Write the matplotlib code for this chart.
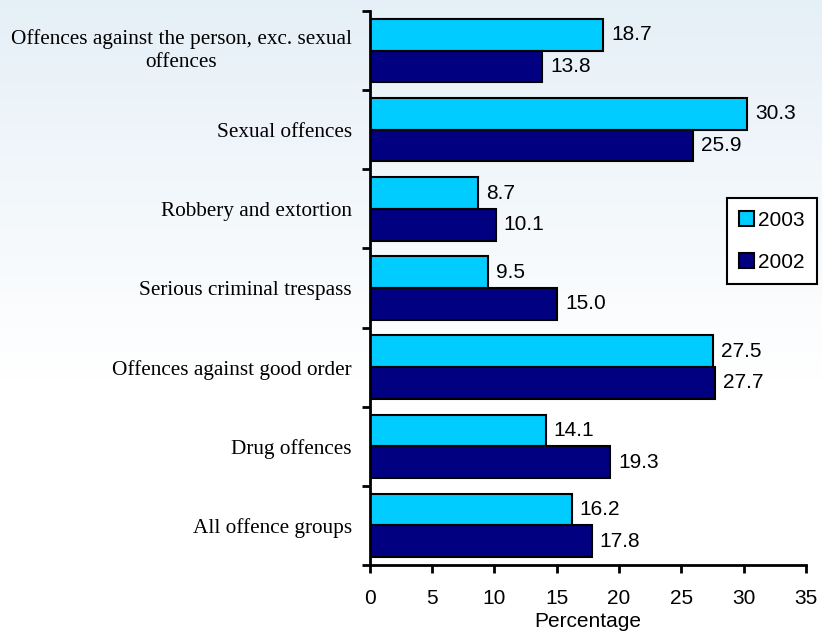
import matplotlib
matplotlib.use("Agg")
import matplotlib.pyplot as plt
import numpy as np

categories = ["Offences against the person, exc. sexual\noffences",
              "Sexual offences",
              "Robbery and extortion",
              "Serious criminal trespass",
              "Offences against good order",
              "Drug offences",
              "All offence groups"]
vals_2003 = [18.7, 30.3, 8.7, 9.5, 27.5, 14.1, 16.2]
vals_2002 = [13.8, 25.9, 10.1, 15.0, 27.7, 19.3, 17.8]
xticks = [0, 5, 10, 15, 20, 25, 30, 35]

fig = plt.figure(figsize=(8.22, 6.31), dpi=100)

# faint bluish background at the top, like the slide it came from
bg = fig.add_axes([0, 0, 1, 1], zorder=-1)
t = np.linspace(0, 1, 200)[:, None]
fade = np.clip(1 - t / 0.6, 0, 1)
img = np.ones((200, 1, 3))
img[:, :, 0] = 1 - 0.10 * fade
img[:, :, 1] = 1 - 0.06 * fade
img[:, :, 2] = 1 - 0.03 * fade
bg.imshow(img, aspect="auto", extent=[0, 1, 0, 1])
bg.axis("off")

ax = fig.add_axes([0.450, 0.1046, 0.5305, 0.878])
ax.patch.set_alpha(0)

y = np.arange(len(categories))
ax.barh(y - 0.2, vals_2003, height=0.4, color="#00CCFF", edgecolor="black",
        linewidth=1.5, label="2003")
ax.barh(y + 0.2, vals_2002, height=0.4, color="#000080", edgecolor="black",
        linewidth=1.5, label="2002")

for i in range(len(categories)):
    ax.text(vals_2003[i] + 0.65, y[i] - 0.2, f"{vals_2003[i]:.1f}", va="center",
            ha="left", fontsize=15, family="Liberation Sans")
    ax.text(vals_2002[i] + 0.65, y[i] + 0.2, f"{vals_2002[i]:.1f}", va="center",
            ha="left", fontsize=15, family="Liberation Sans")

ax.set_ylim(len(categories) - 0.5, -0.5)
ax.set_xlim(0, 35)
ax.set_yticks(np.arange(-0.5, len(categories)))
ax.set_yticklabels([])
ax.set_yticks(y, minor=True)
labels = ax.set_yticklabels(categories, minor=True, fontsize=15.3,
                            family="Liberation Serif",
                            multialignment="center", linespacing=1.35)
labels[0].set_va("center")
ax.tick_params(axis="y", which="minor", length=0, pad=13)
ax.tick_params(axis="y", which="major", length=6, width=2, direction="out")
ax.set_xticks(xticks)
ax.set_xticklabels([str(v) for v in xticks], fontsize=15, family="Liberation Sans")
ax.tick_params(axis="x", length=6, width=2, direction="out", pad=11)
ax.set_xlabel("Percentage", fontsize=15, family="Liberation Sans", labelpad=3)

for s in ["top", "right"]:
    ax.spines[s].set_visible(False)
for s in ["left", "bottom"]:
    ax.spines[s].set_linewidth(2)

leg = ax.legend(loc="upper left", bbox_to_anchor=(0.884, 0.686),
                bbox_transform=fig.transFigure, frameon=True, fancybox=False,
                prop={"family": "Liberation Sans", "size": 15},
                handlelength=0.7, handleheight=0.7, handletextpad=0.2,
                labelspacing=1.1, borderpad=0.6, borderaxespad=0)
leg.get_frame().set_edgecolor("black")
leg.get_frame().set_linewidth(1.5)
leg.get_frame().set_facecolor("white")
leg.get_frame().set_alpha(1)

fig.savefig("out.png", dpi=100)
